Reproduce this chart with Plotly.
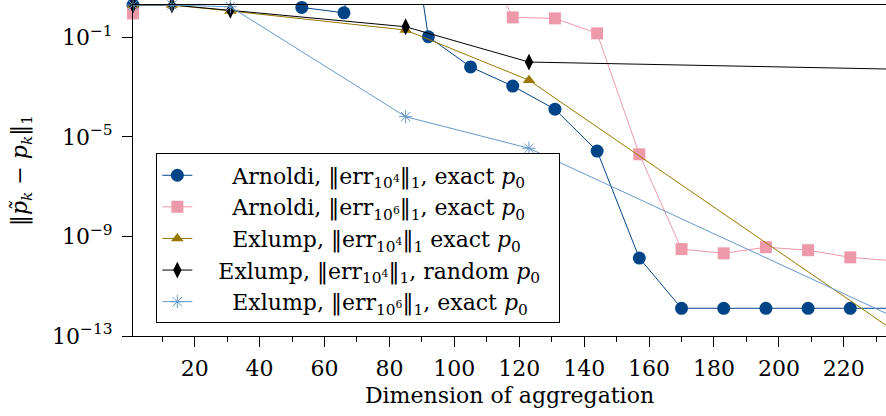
import math
import plotly.graph_objects as go

# ---------------- data ----------------
arnoldi_dims = [1, 14, 27, 40, 53, 66, 79, 92, 105, 118, 131, 144, 157, 170, 183, 196, 209, 222, 235]
arnoldi_err_1e4 = [2.0, 30.0, 30.0, 10.0, 1.6, 0.97, 2e10, 0.106, 6.5e-3, 1.1e-3, 1.3e-4, 2.7e-6,
                   1.35e-10, 1.3e-12, 1.3e-12, 1.3e-12, 1.3e-12, 1.3e-12, 1.3e-12]
arnoldi_err_1e6 = [0.92, 500.0, 800.0, 1000.0, 1000.0, 1200.0, 1500.0, 1500.0, 1600.0, 0.635, 0.58, 0.145,
                   2.0e-6, 3.1e-10, 2.1e-10, 3.7e-10, 2.8e-10, 1.45e-10, 1.05e-10]

exlump_dims = [1, 13, 31, 85, 123, 235]
exlump_err_1e4_exact = [2.0, 2.0, 1.15, 0.197, 1.9e-3, 1.8e-13]
exlump_err_1e4_random = [2.0, 2.0, 1.22, 0.267, 1.02e-2, 5.3e-3]
exlump_err_1e6_exact = [2.0, 2.0, 1.7, 6.5e-5, 3.5e-6, 6.2e-13]

series_names = [
    "Arnoldi, ‖err<sub>10<sup>4</sup></sub>‖<sub>1</sub>, exact <i>p</i><sub>0</sub>",
    "Arnoldi, ‖err<sub>10<sup>6</sup></sub>‖<sub>1</sub>, exact <i>p</i><sub>0</sub>",
    "Exlump, ‖err<sub>10<sup>4</sup></sub>‖<sub>1</sub> exact <i>p</i><sub>0</sub>",
    "Exlump, ‖err<sub>10<sup>4</sup></sub>‖<sub>1</sub>, random <i>p</i><sub>0</sub>",
    "Exlump, ‖err<sub>10<sup>6</sup></sub>‖<sub>1</sub>, exact <i>p</i><sub>0</sub>",
]

ytick_vals = [1e-13, 1e-9, 1e-5, 1e-1]
ytick_text = ["10<sup>−13</sup>", "10<sup>−9</sup>", "10<sup>−5</sup>", "10<sup>−1</sup>"]

x_title = "Dimension of aggregation"
y_title = "‖<i>p̃</i><sub><i>k</i></sub> − <i>p</i><sub><i>k</i></sub>‖<sub>1</sub>"

# ---------------- styles ----------------
FONT = "DejaVu Serif"
FS = 22
NB = "\u00a0"

styles = [
    dict(color="#004488", symbol="circle", size=13),
    dict(color="#EE99AA", symbol="square", size=12),
    dict(color="#997700", symbol="triangle-up", size=11),
    dict(color="#000000", symbol="diamond-tall", size=12),
    dict(color="#6699CC", symbol="asterisk-open", size=11),
]
pads_left = [5, 5, 5, 3, 5]
pads_right = [0, 0, 0, 2, 0]

xs = [arnoldi_dims, arnoldi_dims, exlump_dims, exlump_dims, exlump_dims]
ys = [arnoldi_err_1e4, arnoldi_err_1e6, exlump_err_1e4_exact, exlump_err_1e4_random, exlump_err_1e6_exact]

fig = go.Figure()
for i in range(5):
    st = styles[i]
    if st["symbol"] == "asterisk-open":
        marker = dict(symbol=st["symbol"], size=st["size"], color=st["color"],
                      line=dict(color=st["color"], width=1))
    else:
        marker = dict(symbol=st["symbol"], size=st["size"], color=st["color"], line=dict(width=0))
    fig.add_trace(go.Scatter(
        x=xs[i], y=ys[i], mode="lines+markers",
        name=NB * pads_left[i] + series_names[i] + NB * pads_right[i],
        line=dict(color=st["color"], width=1),
        marker=marker,
        cliponaxis=False,
        legendgroup=f"g{i}",
    ))

fig.update_layout(
    width=886, height=416,
    margin=dict(l=133, r=0, t=5, b=80, autoexpand=False),
    paper_bgcolor="white", plot_bgcolor="white",
    font=dict(family=FONT, size=FS, color="black"),
    showlegend=True,
    legend=dict(
        x=0.031, y=0.5515, xanchor="left", yanchor="top",
        bgcolor="white", bordercolor="black", borderwidth=1,
        font=dict(family=FONT, size=FS, color="black"),
        traceorder="grouped", tracegroupgap=0,
    ),
)

fig.update_xaxes(
    range=[1, 233], showline=True, linecolor="black", linewidth=1, mirror=True,
    ticks="outside", ticklen=10, tickwidth=1, tickcolor="black",
    tick0=0, dtick=20, ticklabelstandoff=3,
    minor=dict(tick0=0, dtick=10, ticks="outside", ticklen=5, tickwidth=1, tickcolor="black", showgrid=False),
    showgrid=False, zeroline=False,
    title=dict(text=x_title, font=dict(family=FONT, size=FS), standoff=7),
    tickfont=dict(family=FONT, size=FS),
)
fig.update_yaxes(
    type="log", range=[-13, math.log10(2)],
    showline=True, linecolor="black", linewidth=1,
    ticks="outside", ticklen=10, tickwidth=1, tickcolor="black",
    tickvals=ytick_vals, ticktext=ytick_text, ticklabelstandoff=5,
    showgrid=False, zeroline=False,
    title=dict(text=y_title, font=dict(family=FONT, size=FS), standoff=18),
    tickfont=dict(family=FONT, size=FS),
)

fig.write_html("out.html", config={"displayModeBar": False},
               post_script="document.body.style.margin='0';")
